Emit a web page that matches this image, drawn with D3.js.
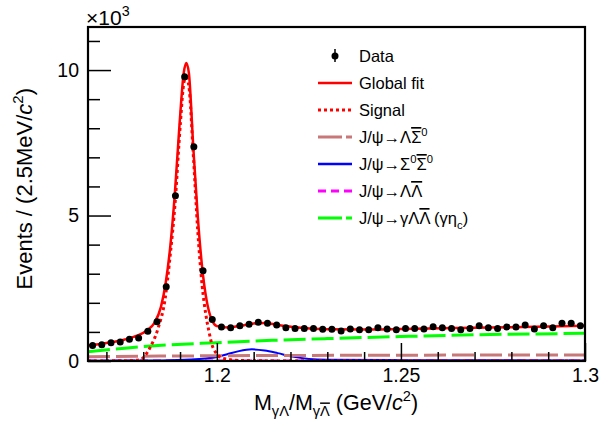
<!DOCTYPE html>
<html>
<head>
<meta charset="utf-8">
<script src="https://cdn.jsdelivr.net/npm/d3@7"></script>
<style>
  body { margin: 0; background: #fff; }
  text { font-family: "Liberation Sans", Arial, Helvetica, sans-serif; }
</style>
</head>
<body>
<div id="chart-container"></div>
<script>
// invariant mass spectrum with fit components (x10^3 events)
const svgWidth = 610;
const svgHeight = 423;

const binLow = 1.165;
const binWidth = 0.0025;
const dataCounts = [0.53, 0.56, 0.63, 0.65, 0.75, 0.79, 1.02, 1.35, 2.55, 5.68,
  9.77, 7.36, 3.10, 1.43, 1.17, 1.14, 1.21, 1.26, 1.33, 1.30,
  1.24, 1.14, 1.12, 1.12, 1.12, 1.09, 1.09, 1.03, 1.10, 1.07,
  1.07, 1.14, 1.10, 1.07, 1.12, 1.12, 1.10, 1.18, 1.14, 1.12,
  1.07, 1.12, 1.21, 1.14, 1.12, 1.17, 1.17, 1.24, 1.10, 1.21,
  1.14, 1.30, 1.30, 1.21];

// fit curves, sampled by eye
const fitMass = [1.165, 1.170, 1.175, 1.1785, 1.181, 1.183, 1.1848, 1.1861, 1.1874, 1.1886,
  1.1899, 1.1910, 1.1917, 1.1924, 1.1936, 1.1948, 1.1960, 1.1972, 1.1985, 1.2000,
  1.2030, 1.2060, 1.2100, 1.2130, 1.2170, 1.2220, 1.2300, 1.2400, 1.2500, 1.2650,
  1.2800, 1.3000];
const fitTotal = [0.53, 0.62, 0.74, 0.88, 1.05, 1.30, 1.85, 2.68, 4.00, 5.77,
  8.20, 9.90, 10.24, 9.90, 7.35, 5.00, 3.23, 2.10, 1.45, 1.20,
  1.15, 1.20, 1.29, 1.31, 1.23, 1.15, 1.09, 1.08, 1.10, 1.13,
  1.16, 1.21];

const sigMass = [1.165, 1.175, 1.179, 1.1818, 1.1841, 1.1859, 1.1873, 1.1887, 1.1900, 1.1911,
  1.1917, 1.1924, 1.1936, 1.1948, 1.1960, 1.1970, 1.1978, 1.1990, 1.2017, 1.206,
  1.22, 1.30];
const sigValues = [0.0, 0.01, 0.04, 0.45, 1.15, 2.10, 3.60, 5.50, 8.00, 9.60,
  9.75, 9.45, 7.10, 4.50, 2.60, 1.60, 1.05, 0.45, 0.09, 0.02,
  0.0, 0.0];

const lsMass = [1.165, 1.20, 1.25, 1.30];
const lsValues = [0.15, 0.18, 0.20, 0.21];

const ssMass = [1.165, 1.185, 1.193, 1.197, 1.200, 1.203, 1.206, 1.2095, 1.213, 1.2165,
  1.2205, 1.225, 1.230, 1.250, 1.300];
const ssValues = [0.01, 0.02, 0.05, 0.09, 0.14, 0.24, 0.34, 0.40, 0.36, 0.27,
  0.15, 0.07, 0.04, 0.03, 0.02];

const llMass = [1.165, 1.23, 1.30];
const llValues = [0.005, 0.008, 0.01];

const etacMass = [1.165, 1.175, 1.185, 1.20, 1.215, 1.23, 1.25, 1.27, 1.30];
const etacValues = [0.32, 0.44, 0.54, 0.63, 0.71, 0.77, 0.84, 0.90, 0.95];

const xMajor = [1.2, 1.25, 1.3];
const xMinor = [1.17, 1.18, 1.19, 1.21, 1.22, 1.23, 1.24, 1.26, 1.27, 1.28, 1.29];
const yMajor = [0, 5, 10];
const yMinor = [1, 2, 3, 4, 6, 7, 8, 9, 11];

const svg = d3.select("#chart-container")
    .append("svg")
    .attr("width", svgWidth)
    .attr("height", svgHeight);

const x = d3.scaleLinear().domain([1.165, 1.3]).range([88, 585]);
const y = d3.scaleLinear().domain([0, 11.48]).range([361, 27]);

svg.append("clipPath").attr("id", "frame")
    .append("rect").attr("x", 88).attr("y", 27).attr("width", 497).attr("height", 334);

const plot = svg.append("g").attr("clip-path", "url(#frame)");

const line = d3.line().x(d => x(d[0])).y(d => y(d[1])).curve(d3.curveMonotoneX);
const zip = (a, b) => a.map((v, i) => [v, b[i]]);

// components, drawn bottom first
const curves = [
    { pts: zip(llMass, llValues), color: "#ff00ff", width: 2.5, dash: "8,5" },
    { pts: zip(ssMass, ssValues), color: "#0000ff", width: 2, dash: null },
    { pts: zip(lsMass, lsValues), color: "#c87878", width: 3, dash: "22,6" },
    { pts: zip(etacMass, etacValues), color: "#00ff00", width: 3, dash: "22,6" },
    { pts: zip(sigMass, sigValues), color: "#ff0000", width: 3, dash: "3,3" },
    { pts: zip(fitMass, fitTotal), color: "#ff0000", width: 2.5, dash: null }
];
curves.forEach(c => {
    plot.append("path")
        .attr("d", line(c.pts))
        .attr("fill", "none")
        .attr("stroke", c.color)
        .attr("stroke-width", c.width)
        .attr("stroke-dasharray", c.dash);
});

// data points with sqrt(N) errors
const points = dataCounts.map((v, i) => ({ m: binLow + binWidth * (i + 0.5), v: v, e: Math.sqrt(v * 1000) / 1000 }));
plot.selectAll(".err").data(points).enter().append("line")
    .attr("x1", d => x(d.m)).attr("x2", d => x(d.m))
    .attr("y1", d => y(d.v - d.e)).attr("y2", d => y(d.v + d.e))
    .attr("stroke", "#000").attr("stroke-width", 1.5);
plot.selectAll(".pt").data(points).enter().append("circle")
    .attr("cx", d => x(d.m)).attr("cy", d => y(d.v)).attr("r", 3.5)
    .attr("fill", "#000");

// axes, ticks pointing inwards
function styleAxis(g) {
    g.select(".domain").remove();
    g.selectAll("line").attr("stroke", "#000").attr("stroke-width", 1.5);
    g.selectAll("text").attr("font-size", 19.5).attr("fill", "#000")
        .style("font-family", "'Liberation Sans', Arial, sans-serif");
}
svg.append("g").attr("transform", "translate(0,361)")
    .call(d3.axisBottom(x).tickValues(xMinor).tickSize(-9).tickFormat(""))
    .call(styleAxis);
svg.append("g").attr("transform", "translate(0,361)")
    .call(d3.axisBottom(x).tickValues(xMajor).tickSize(-18).tickPadding(7).tickFormat(d3.format("")))
    .call(styleAxis);
svg.append("g").attr("transform", "translate(88,0)")
    .call(d3.axisLeft(y).tickValues(yMinor).tickSize(-12).tickFormat(""))
    .call(styleAxis);
svg.append("g").attr("transform", "translate(88,0)")
    .call(d3.axisLeft(y).tickValues(yMajor).tickSize(-23).tickPadding(9).tickFormat(d3.format("d")))
    .call(styleAxis);

svg.append("rect")
    .attr("x", 88).attr("y", 27).attr("width", 497).attr("height", 334)
    .attr("fill", "none").attr("stroke", "#000").attr("stroke-width", 2.2);

// rich text helper: parts are [text, kind]; each piece shifts from the previous offset
function rich(sel, parts, size) {
    let shift = 0;
    parts.forEach(p => {
        const t = p[0], kind = p[1] || "";
        let target = 0;
        if (kind.includes("sub")) target = size * 0.3;
        if (kind.includes("sup")) target = -size * 0.42;
        const ts = sel.append("tspan").text(t);
        if (target !== shift) ts.attr("dy", target - shift);
        shift = target;
        if (target !== 0) ts.attr("font-size", size * 0.68);
        if (kind.includes("over")) ts.style("text-decoration", "overline");
        if (kind.includes("ital")) ts.attr("font-style", "italic");
    });
}

// axis titles
const xt = svg.append("text").attr("x", 336).attr("y", 410)
    .attr("text-anchor", "middle").attr("font-size", 21.5);
rich(xt, [["M"], ["\u03b3\u039b", "sub"], ["/M"], ["\u03b3", "sub"], ["\u039b", "sub over"],
    [" (GeV/"], ["c", "ital"], ["2", "sup"], [")"]], 21.5);

const yt = svg.append("text").attr("transform", "translate(32,88) rotate(-90)")
    .attr("text-anchor", "end").attr("font-size", 22);
rich(yt, [["Events / (2.5MeV/"], ["c", "ital"], ["2", "sup"], [")"]], 22);

const ex = svg.append("text").attr("x", 86).attr("y", 25).attr("font-size", 21);
rich(ex, [["\u00d710"], ["3", "sup"]], 21);

// legend
const legendItems = [
    { kind: "data", parts: [["Data"]] },
    { kind: "line", color: "#ff0000", width: 2.5, dash: null, parts: [["Global fit"]] },
    { kind: "line", color: "#ff0000", width: 3, dash: "3,3", parts: [["Signal"]] },
    { kind: "line", color: "#c87878", width: 3, dash: "24,4", parts: [["J/\u03c8\u2192\u039b"], ["\u03a3", "over"], ["0", "sup"]] },
    { kind: "line", color: "#0000ff", width: 2.5, dash: null, parts: [["J/\u03c8\u2192\u03a3"], ["0", "sup"], ["\u03a3", "over"], ["0", "sup"]] },
    { kind: "line", color: "#ff00ff", width: 3, dash: "8,5", parts: [["J/\u03c8\u2192\u039b"], ["\u039b", "over"]] },
    { kind: "line", color: "#00ff00", width: 3, dash: "24,4", parts: [["J/\u03c8\u2192\u03b3\u039b"], ["\u039b", "over"], [" (\u03b3\u03b7"], ["c", "sub"], [")"]] }
];
const legend = svg.append("g");
legendItems.forEach((d, i) => {
    const cy = 56 + i * 27;
    if (d.kind === "data") {
        legend.append("line").attr("x1", 335).attr("x2", 335).attr("y1", cy - 7).attr("y2", cy + 6)
            .attr("stroke", "#000").attr("stroke-width", 1.5);
        legend.append("circle").attr("cx", 335).attr("cy", cy).attr("r", 3.5).attr("fill", "#000");
    } else {
        legend.append("line").attr("x1", 318).attr("x2", 352).attr("y1", cy).attr("y2", cy)
            .attr("stroke", d.color).attr("stroke-width", d.width).attr("stroke-dasharray", d.dash);
    }
    const t = legend.append("text").attr("x", 359).attr("y", cy + 6).attr("font-size", 16.5);
    rich(t, d.parts, 16.5);
});
</script>
</body>
</html>
